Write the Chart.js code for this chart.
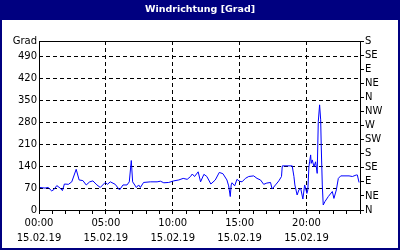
<!DOCTYPE html>
<html>
<head>
<meta charset="utf-8">
<script src="https://cdn.jsdelivr.net/npm/chart.js@4"></script>
<style>
  html, body { margin: 0; padding: 0; background: #000080; }
  canvas { display: block; }
</style>
</head>
<body>
<canvas id="chart" width="400" height="250"></canvas>
<script>
// time of day in hours, wind direction in degrees
const hours = [0.05, 0.45, 0.68, 0.95, 1.13, 1.33, 1.58, 1.75, 1.9, 2.2, 2.45, 2.78, 3.0, 3.28, 3.53, 3.79,
  4.03, 4.33, 4.58, 4.95, 5.12, 5.33, 5.7, 6.02, 6.28, 6.58, 6.75, 6.9, 7.0, 7.28, 7.45, 7.58, 7.82, 8.33,
  8.83, 9.08, 9.33, 9.7, 10.07, 10.45, 10.78, 11.08, 11.33, 11.46, 11.63, 11.9, 12.08, 12.33, 12.55, 12.85,
  13.18, 13.48, 13.75, 14.05, 14.18, 14.3, 14.37, 14.43, 14.63, 14.8, 14.98, 15.18, 15.43, 15.68, 16.05,
  16.3, 16.56, 16.8, 17.03, 17.31, 17.43, 17.68, 17.93, 18.13, 18.19, 18.93, 19.06, 19.13, 19.3, 19.43,
  19.56, 19.73, 19.86, 19.93, 20.03, 20.1, 20.18, 20.23, 20.31, 20.35, 20.43, 20.56, 20.68, 20.8, 20.88,
  20.98, 21.06, 21.1, 21.18, 21.25, 21.38, 21.63, 21.93, 22.05, 22.23, 22.38, 22.56, 23.18, 23.43, 23.73,
  23.8, 23.93];
const windDir = [72, 70, 72, 61, 66, 78, 70, 62, 83, 82, 90, 130, 96, 94, 80, 90,
  93, 80, 72, 88, 82, 90, 82, 64, 80, 80, 90, 158, 90, 72, 80, 72, 88, 90,
  90, 92, 87, 88, 93, 96, 101, 98, 107, 115, 107, 122, 90, 114, 107, 83,
  96, 120, 116, 96, 77, 43, 80, 87, 77, 98, 92, 90, 101, 107, 109,
  101, 96, 82, 86, 88, 67, 80, 93, 107, 141, 141, 107, 80, 48, 64,
  70, 35, 80, 70, 53, 64, 138, 154, 176, 149, 160, 138, 154, 117, 282,
  336, 288, 208, 80, 16, 27, 43, 59, 37, 64, 101, 109, 109, 107, 112,
  112, 88];

const degTicks = [0, 70, 140, 210, 280, 350, 420, 490];
const dirLabels = ['N', 'NE', 'E', 'SE', 'S', 'SW', 'W', 'NW', 'N', 'NE', 'E', 'SE', 'S'];
const timeLabels = ['00:00', '05:00', '10:00', '15:00', '20:00'];
const dateLabel = '15.02.19';

Chart.defaults.font.family = 'DejaVu Sans';
Chart.defaults.font.size = 10;
Chart.defaults.color = '#000';

const tickFont = { family: 'DejaVu Sans', size: 10 };

const frame = {
  id: 'frame',
  beforeDraw(chart) {
    const ctx = chart.ctx;
    ctx.save();
    ctx.fillStyle = '#000080';
    ctx.fillRect(0, 0, chart.width, chart.height);
    ctx.fillStyle = '#fff';
    ctx.fillRect(2, 20, chart.width - 4, chart.height - 22);
    ctx.restore();
  },
  afterDraw(chart) {
    const { left, top, right, bottom } = chart.chartArea;
    const ctx = chart.ctx;
    const x0 = Math.floor(left) + 0.5, x1 = Math.floor(right) + 0.5;
    const y0 = Math.floor(top) + 0.5, y1 = Math.floor(bottom) + 0.5;
    ctx.save();
    ctx.setLineDash([]);
    ctx.strokeStyle = '#000';
    ctx.lineWidth = 1;
    ctx.strokeRect(x0, y0, x1 - x0, y1 - y0);
    ctx.restore();
  }
};

new Chart(document.getElementById('chart'), {
  type: 'line',
  data: {
    datasets: [{
      data: hours.map((h, i) => ({ x: h, y: windDir[i] })),
      borderColor: '#0000ff',
      borderWidth: 1,
      pointRadius: 0,
      tension: 0,
      fill: false,
      yAxisID: 'y'
    }]
  },
  options: {
    responsive: false,
    animation: false,
    devicePixelRatio: 1,
    layout: { padding: { left: 2, right: 2, top: 0, bottom: 2 } },
    plugins: {
      legend: { display: false },
      tooltip: { enabled: false },
      title: {
        display: true,
        text: 'Windrichtung [Grad]',
        color: '#fff',
        font: { family: 'DejaVu Sans', size: 9.5, weight: 'bold' },
        padding: { top: 4, bottom: 25.6 }
      }
    },
    scales: {
      x: {
        type: 'linear',
        min: 0,
        max: 24,
        afterBuildTicks: s => { s.ticks = Array.from({ length: 25 }, (_, i) => ({ value: i })); },
        ticks: {
          autoSkip: false,
          maxRotation: 0,
          padding: 2,
          font: { ...tickFont, lineHeight: 1.5 },
          callback: v => (v % 5 === 0 && v < 24) ? [timeLabels[v / 5], dateLabel] : ''
        },
        grid: {
          color: c => (c.tick && c.tick.value % 5 === 0 && c.tick.value > 0 && c.tick.value < 24) ? '#000' : 'transparent',
          tickColor: '#000',
          tickLength: 4,
          tickBorderDash: []
        },
        border: { display: false, dash: [4, 3] },
        afterFit: s => { s.height = 38; }
      },
      y: {
        type: 'linear',
        position: 'left',
        min: 0,
        max: 540,
        afterBuildTicks: s => { s.ticks = [...degTicks, 540].map(v => ({ value: v })); },
        ticks: {
          autoSkip: false,
          padding: 2,
          font: tickFont,
          callback: v => v === 540 ? 'Grad' : v
        },
        grid: {
          color: c => (c.tick && c.tick.value > 0 && c.tick.value < 540) ? '#000' : 'transparent',
          drawTicks: false
        },
        border: { display: false, dash: [4, 3] },
        afterFit: s => { s.width = 37; }
      },
      y2: {
        type: 'linear',
        position: 'right',
        min: 0,
        max: 540,
        afterBuildTicks: s => { s.ticks = dirLabels.map((_, i) => ({ value: i * 45 })); },
        ticks: {
          autoSkip: false,
          padding: 1,
          font: tickFont,
          callback: (v, i) => dirLabels[i]
        },
        grid: {
          drawOnChartArea: false,
          color: '#000',
          tickLength: 4
        },
        border: { display: false },
        afterFit: s => { s.width = 38; }
      }
    }
  },
  plugins: [frame]
});
</script>
</body>
</html>
